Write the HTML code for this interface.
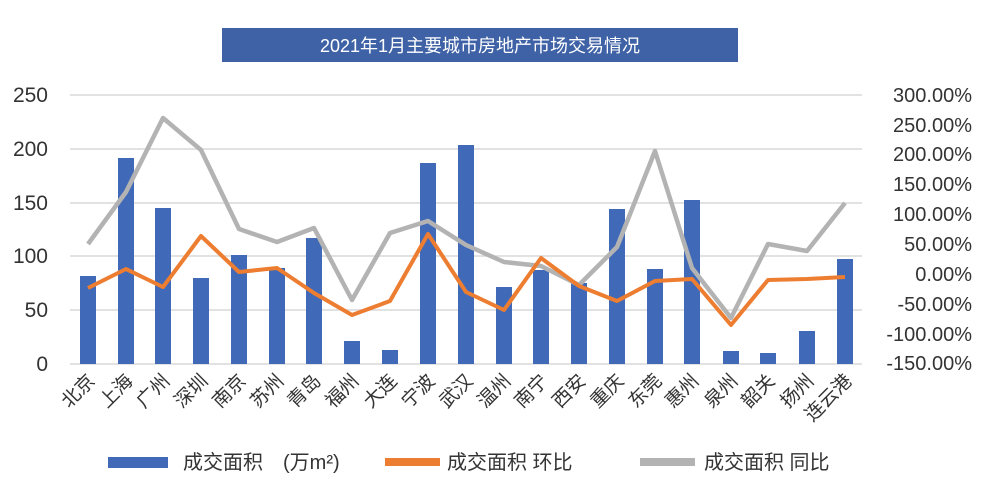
<!DOCTYPE html>
<html><head><meta charset="utf-8"><style>
body{margin:0;background:#fff;width:1000px;height:493px;overflow:hidden;font-family:"Liberation Sans","Noto Sans CJK SC",sans-serif}
</style></head><body>
<svg width="1000" height="493" xmlns="http://www.w3.org/2000/svg" font-family="Liberation Sans, Noto Sans CJK SC, sans-serif">
<rect x="222" y="28" width="516" height="34" fill="#3f62a6"/>
<text x="480" y="52" fill="#fff" font-size="18" text-anchor="middle">2021年1月主要城市房地产市场交易情况</text>
<g stroke="#d9d9d9" stroke-width="1.5">
<line x1="70" y1="95" x2="862" y2="95"/><line x1="70" y1="149" x2="862" y2="149"/><line x1="70" y1="203" x2="862" y2="203"/><line x1="70" y1="256" x2="862" y2="256"/><line x1="70" y1="310" x2="862" y2="310"/><line x1="70" y1="364" x2="862" y2="364"/>
</g>
<g font-size="21" fill="#333" text-anchor="end">
<text x="48" y="102">250</text><text x="48" y="156">200</text><text x="48" y="210">150</text><text x="48" y="263">100</text><text x="48" y="317">50</text><text x="48" y="371">0</text>
</g>
<g font-size="20" fill="#333" text-anchor="end">
<text x="972" y="102">300.00%</text><text x="972" y="132">250.00%</text><text x="972" y="161">200.00%</text><text x="972" y="191">150.00%</text><text x="972" y="221">100.00%</text><text x="972" y="251">50.00%</text><text x="972" y="281">0.00%</text><text x="972" y="311">-50.00%</text><text x="972" y="341">-100.00%</text><text x="972" y="370">-150.00%</text>
</g>
<g fill="#4069b8">
<rect x="80" y="276" width="16" height="88"/><rect x="118" y="158" width="16" height="206"/><rect x="155" y="208" width="16" height="156"/><rect x="193" y="278" width="16" height="86"/><rect x="231" y="255" width="16" height="109"/><rect x="269" y="268" width="16" height="96"/><rect x="306" y="238" width="16" height="126"/><rect x="344" y="341" width="16" height="23"/><rect x="382" y="350" width="16" height="14"/><rect x="420" y="163" width="16" height="201"/><rect x="458" y="145" width="16" height="219"/><rect x="496" y="287" width="16" height="77"/><rect x="533" y="270" width="16" height="94"/><rect x="571" y="283" width="16" height="81"/><rect x="609" y="209" width="16" height="155"/><rect x="647" y="269" width="16" height="95"/><rect x="684" y="200" width="16" height="164"/><rect x="723" y="351" width="16" height="13"/><rect x="760" y="353" width="16" height="11"/><rect x="799" y="331" width="16" height="33"/><rect x="837" y="259" width="16" height="105"/>
</g>
<polyline fill="none" stroke="#b3b3b3" stroke-width="4.5" stroke-linejoin="round" points="88,244 126,192 163,118 201,150 239,229 277,242 314,228 352,300 390,233 428,221 466,245 504,262 541,266 579,285 617,247 655,151 692,268 731,318 768,244 807,251 845,203"/>
<polyline fill="none" stroke="#ed7d31" stroke-width="4" stroke-linejoin="round" points="88,288 126,269 163,287 201,236 239,272 277,268 314,293 352,315 390,301 428,234 466,292 504,310 541,258 579,286 617,301 655,281 692,279 731,325 768,280 807,279 845,277"/>
<g font-size="19" fill="#333" text-anchor="end">
<text transform="translate(96,382) rotate(-45)">北京</text><text transform="translate(134,382) rotate(-45)">上海</text><text transform="translate(171,382) rotate(-45)">广州</text><text transform="translate(209,382) rotate(-45)">深圳</text><text transform="translate(247,382) rotate(-45)">南京</text><text transform="translate(285,382) rotate(-45)">苏州</text><text transform="translate(322,382) rotate(-45)">青岛</text><text transform="translate(360,382) rotate(-45)">福州</text><text transform="translate(398,382) rotate(-45)">大连</text><text transform="translate(436,382) rotate(-45)">宁波</text><text transform="translate(474,382) rotate(-45)">武汉</text><text transform="translate(512,382) rotate(-45)">温州</text><text transform="translate(549,382) rotate(-45)">南宁</text><text transform="translate(587,382) rotate(-45)">西安</text><text transform="translate(625,382) rotate(-45)">重庆</text><text transform="translate(663,382) rotate(-45)">东莞</text><text transform="translate(700,382) rotate(-45)">惠州</text><text transform="translate(739,382) rotate(-45)">泉州</text><text transform="translate(776,382) rotate(-45)">韶关</text><text transform="translate(815,382) rotate(-45)">扬州</text><text transform="translate(853,382) rotate(-45)">连云港</text>
</g>
<rect x="108" y="457" width="60" height="11" fill="#4069b8"/>
<text x="183" y="469" font-size="20" fill="#333">成交面积　(万m²)</text>
<line x1="385" y1="462" x2="440" y2="462" stroke="#ed7d31" stroke-width="8"/>
<text x="447" y="469" font-size="20" fill="#333">成交面积  环比</text>
<line x1="640" y1="462" x2="695" y2="462" stroke="#b3b3b3" stroke-width="8"/>
<text x="704" y="469" font-size="20" fill="#333">成交面积  同比</text>
</svg>
</body></html>
